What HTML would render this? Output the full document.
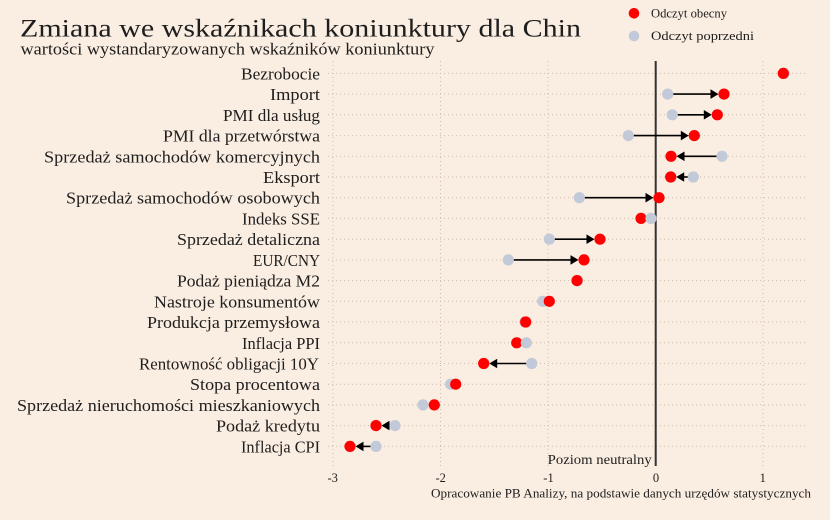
<!DOCTYPE html>
<html>
<head>
<meta charset="utf-8">
<style>
html,body{margin:0;padding:0;background:#FAEDE1;}
svg{display:block;}
text{font-family:"Liberation Serif",serif;fill:#1e1e1e;}
</style>
</head>
<body>
<svg width="830" height="520" viewBox="0 0 830 520" xmlns="http://www.w3.org/2000/svg">
<rect x="0" y="0" width="830" height="520" fill="#FAEDE1"/>

<!-- title -->
<text x="20" y="36.7" font-size="25.5" textLength="561" lengthAdjust="spacingAndGlyphs">Zmiana we wskaźnikach koniunktury dla Chin</text>
<text x="20.5" y="54.5" font-size="16.5" textLength="414" lengthAdjust="spacingAndGlyphs">wartości wystandaryzowanych wskaźników koniunktury</text>

<!-- legend -->
<circle cx="634" cy="13.3" r="5.3" fill="#FF0000"/>
<text x="651" y="17.3" font-size="12.8" textLength="76" lengthAdjust="spacingAndGlyphs">Odczyt obecny</text>
<circle cx="634" cy="36" r="5.3" fill="#C2C9D8"/>
<text x="651" y="40" font-size="12.8" textLength="103" lengthAdjust="spacingAndGlyphs">Odczyt poprzedni</text>

<!-- grid vertical -->
<g stroke="#cdbcad" stroke-width="1" stroke-dasharray="1,3">
<line x1="333" y1="61" x2="333" y2="466"/>
<line x1="440.5" y1="61" x2="440.5" y2="466"/>
<line x1="548" y1="61" x2="548" y2="466"/>
<line x1="763" y1="61" x2="763" y2="466"/>
</g>

<!-- grid horizontal -->
<g stroke="#cdbcad" stroke-width="1" stroke-dasharray="1,3">
<line x1="328" y1="73.4" x2="808" y2="73.4"/>
<line x1="328" y1="94.1" x2="808" y2="94.1"/>
<line x1="328" y1="114.8" x2="808" y2="114.8"/>
<line x1="328" y1="135.6" x2="808" y2="135.6"/>
<line x1="328" y1="156.3" x2="808" y2="156.3"/>
<line x1="328" y1="177.0" x2="808" y2="177.0"/>
<line x1="328" y1="197.7" x2="808" y2="197.7"/>
<line x1="328" y1="218.4" x2="808" y2="218.4"/>
<line x1="328" y1="239.2" x2="808" y2="239.2"/>
<line x1="328" y1="259.9" x2="808" y2="259.9"/>
<line x1="328" y1="280.6" x2="808" y2="280.6"/>
<line x1="328" y1="301.3" x2="808" y2="301.3"/>
<line x1="328" y1="322.0" x2="808" y2="322.0"/>
<line x1="328" y1="342.8" x2="808" y2="342.8"/>
<line x1="328" y1="363.5" x2="808" y2="363.5"/>
<line x1="328" y1="384.2" x2="808" y2="384.2"/>
<line x1="328" y1="404.9" x2="808" y2="404.9"/>
<line x1="328" y1="425.6" x2="808" y2="425.6"/>
<line x1="328" y1="446.4" x2="808" y2="446.4"/>
</g>

<!-- zero line -->
<line x1="655.7" y1="61" x2="655.7" y2="466" stroke="#333" stroke-width="2"/>

<!-- category labels -->
<g font-size="17" text-anchor="end">
<text x="320" y="79.4" textLength="79" lengthAdjust="spacingAndGlyphs">Bezrobocie</text>
<text x="320" y="100.1" textLength="50" lengthAdjust="spacingAndGlyphs">Import</text>
<text x="320" y="120.8" textLength="97" lengthAdjust="spacingAndGlyphs">PMI dla usług</text>
<text x="320" y="141.6" textLength="157" lengthAdjust="spacingAndGlyphs">PMI dla przetwórstwa</text>
<text x="320" y="162.3" textLength="276" lengthAdjust="spacingAndGlyphs">Sprzedaż samochodów komercyjnych</text>
<text x="320" y="183.0" textLength="57" lengthAdjust="spacingAndGlyphs">Eksport</text>
<text x="320" y="203.7" textLength="254" lengthAdjust="spacingAndGlyphs">Sprzedaż samochodów osobowych</text>
<text x="320" y="224.4" textLength="78" lengthAdjust="spacingAndGlyphs">Indeks SSE</text>
<text x="320" y="245.2" textLength="143" lengthAdjust="spacingAndGlyphs">Sprzedaż detaliczna</text>
<text x="320" y="265.9" textLength="67" lengthAdjust="spacingAndGlyphs">EUR/CNY</text>
<text x="320" y="286.6" textLength="143" lengthAdjust="spacingAndGlyphs">Podaż pieniądza M2</text>
<text x="320" y="307.3" textLength="166" lengthAdjust="spacingAndGlyphs">Nastroje konsumentów</text>
<text x="320" y="328.0" textLength="173" lengthAdjust="spacingAndGlyphs">Produkcja przemysłowa</text>
<text x="320" y="348.8" textLength="78" lengthAdjust="spacingAndGlyphs">Inflacja PPI</text>
<text x="319" y="369.5" textLength="180" lengthAdjust="spacingAndGlyphs">Rentowność obligacji 10Y</text>
<text x="320" y="390.2" textLength="130" lengthAdjust="spacingAndGlyphs">Stopa procentowa</text>
<text x="320" y="410.9" textLength="303" lengthAdjust="spacingAndGlyphs">Sprzedaż nieruchomości mieszkaniowych</text>
<text x="320" y="431.6" textLength="104" lengthAdjust="spacingAndGlyphs">Podaż kredytu</text>
<text x="320" y="452.4" textLength="79" lengthAdjust="spacingAndGlyphs">Inflacja CPI</text>
</g>

<!-- arrows: lines -->
<g stroke="#000" stroke-width="1.6">
<!-- Import -->
<line x1="667.7" y1="94.1" x2="712" y2="94.1"/>
<!-- PMI uslug -->
<line x1="672.3" y1="114.8" x2="705" y2="114.8"/>
<!-- PMI przetw -->
<line x1="628.3" y1="135.6" x2="682" y2="135.6"/>
<!-- komercyjne -->
<line x1="722" y1="156.3" x2="683" y2="156.3"/>
<!-- Eksport -->
<line x1="693.3" y1="177.0" x2="683" y2="177.0"/>
<!-- osobowe -->
<line x1="579.3" y1="197.7" x2="647" y2="197.7"/>
<!-- detaliczna -->
<line x1="549.3" y1="239.2" x2="588" y2="239.2"/>
<!-- EUR/CNY -->
<line x1="508.3" y1="259.9" x2="572" y2="259.9"/>
<!-- Rentownosc -->
<line x1="531.7" y1="363.5" x2="496" y2="363.5"/>
<!-- Podaz kredytu -->
<line x1="395" y1="425.6" x2="388" y2="425.6"/>
<!-- CPI -->
<line x1="376" y1="446.4" x2="362" y2="446.4"/>
</g>

<!-- arrowheads -->
<g fill="#000">
<polygon points="718.5,94.1 710.5,89.3 710.5,98.9"/>
<polygon points="711.8,114.8 703.8,110 703.8,119.6"/>
<polygon points="688.8,135.6 680.8,130.8 680.8,140.4"/>
<polygon points="676.5,156.3 684.5,151.5 684.5,161.1"/>
<polygon points="676.2,177.0 684.2,172.2 684.2,181.8"/>
<polygon points="653.5,197.7 645.5,192.9 645.5,202.5"/>
<polygon points="594.5,239.2 586.5,234.4 586.5,244"/>
<polygon points="578.5,259.9 570.5,255.1 570.5,264.7"/>
<polygon points="489.2,363.5 497.2,358.7 497.2,368.3"/>
<polygon points="381.5,425.6 389.5,420.8 389.5,430.4"/>
<polygon points="355.5,446.4 363.5,441.6 363.5,451.2"/>
</g>

<!-- dots -->
<g>
<!-- Bezrobocie -->
<circle cx="784" cy="73.4" r="5.6" fill="#C2C9D8"/>
<circle cx="783.3" cy="73.4" r="5.6" fill="#FF0000"/>
<!-- Import -->
<circle cx="667.7" cy="94.1" r="5.6" fill="#C2C9D8"/>
<circle cx="724" cy="94.1" r="5.6" fill="#FF0000"/>
<!-- PMI uslug -->
<circle cx="672.3" cy="114.8" r="5.6" fill="#C2C9D8"/>
<circle cx="717.3" cy="114.8" r="5.6" fill="#FF0000"/>
<!-- PMI przetw -->
<circle cx="628.3" cy="135.6" r="5.6" fill="#C2C9D8"/>
<circle cx="694.3" cy="135.6" r="5.6" fill="#FF0000"/>
<!-- komercyjne -->
<circle cx="722" cy="156.3" r="5.6" fill="#C2C9D8"/>
<circle cx="671" cy="156.3" r="5.6" fill="#FF0000"/>
<!-- Eksport -->
<circle cx="693.3" cy="177.0" r="5.6" fill="#C2C9D8"/>
<circle cx="670.7" cy="177.0" r="5.6" fill="#FF0000"/>
<!-- osobowe -->
<circle cx="579.3" cy="197.7" r="5.6" fill="#C2C9D8"/>
<circle cx="659" cy="197.7" r="5.6" fill="#FF0000"/>
<!-- SSE (grey on top) -->
<circle cx="641" cy="218.4" r="5.6" fill="#FF0000"/>
<circle cx="651" cy="218.4" r="5.6" fill="#C2C9D8"/>
<!-- detaliczna -->
<circle cx="549.3" cy="239.2" r="5.6" fill="#C2C9D8"/>
<circle cx="600" cy="239.2" r="5.6" fill="#FF0000"/>
<!-- EUR/CNY -->
<circle cx="508.3" cy="259.9" r="5.6" fill="#C2C9D8"/>
<circle cx="584" cy="259.9" r="5.6" fill="#FF0000"/>
<!-- M2 -->
<circle cx="577.5" cy="280.6" r="5.6" fill="#C2C9D8"/>
<circle cx="577" cy="280.6" r="5.6" fill="#FF0000"/>
<!-- Nastroje -->
<circle cx="542.7" cy="301.3" r="5.6" fill="#C2C9D8"/>
<circle cx="549.3" cy="301.3" r="5.6" fill="#FF0000"/>
<!-- Produkcja -->
<circle cx="525" cy="322.0" r="5.6" fill="#C2C9D8"/>
<circle cx="525.7" cy="322.0" r="5.6" fill="#FF0000"/>
<!-- PPI (grey on top) -->
<circle cx="516.7" cy="342.8" r="5.6" fill="#FF0000"/>
<circle cx="526.3" cy="342.8" r="5.6" fill="#C2C9D8"/>
<!-- Rentownosc -->
<circle cx="531.7" cy="363.5" r="5.6" fill="#C2C9D8"/>
<circle cx="483.7" cy="363.5" r="5.6" fill="#FF0000"/>
<!-- Stopa -->
<circle cx="450.7" cy="384.2" r="5.6" fill="#C2C9D8"/>
<circle cx="455.7" cy="384.2" r="5.6" fill="#FF0000"/>
<!-- Nieruchomosci -->
<circle cx="423" cy="404.9" r="5.6" fill="#C2C9D8"/>
<circle cx="434.3" cy="404.9" r="5.6" fill="#FF0000"/>
<!-- Podaz kredytu -->
<circle cx="395" cy="425.6" r="5.6" fill="#C2C9D8"/>
<circle cx="376" cy="425.6" r="5.6" fill="#FF0000"/>
<!-- CPI -->
<circle cx="376" cy="446.4" r="5.6" fill="#C2C9D8"/>
<circle cx="350" cy="446.4" r="5.6" fill="#FF0000"/>
</g>

<!-- neutral label -->
<text x="651.7" y="464" font-size="14" text-anchor="end" textLength="104" lengthAdjust="spacingAndGlyphs">Poziom neutralny</text>

<!-- tick labels -->
<g font-size="12.5" text-anchor="middle">
<text x="332.7" y="482">-3</text>
<text x="440.7" y="482">-2</text>
<text x="548.5" y="482">-1</text>
<text x="656" y="482">0</text>
<text x="762.7" y="482">1</text>
</g>

<!-- source -->
<text x="431" y="497.5" font-size="12.5" textLength="380" lengthAdjust="spacingAndGlyphs">Opracowanie PB Analizy, na podstawie danych urzędów statystycznych</text>
</svg>
</body>
</html>
